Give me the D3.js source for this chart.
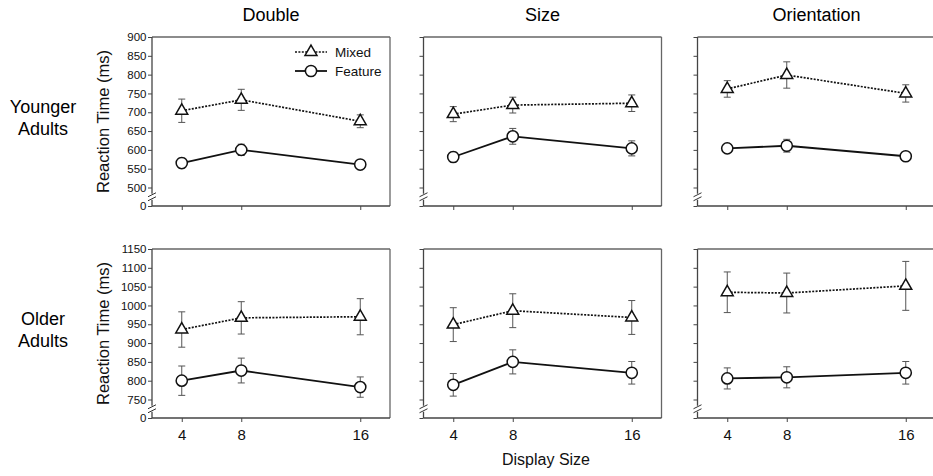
<!DOCTYPE html>
<html>
<head>
<meta charset="utf-8">
<script src="https://cdn.jsdelivr.net/npm/d3@7"></script>
<style>
  body { margin: 0; background: #fff; }
  svg { display: block; font-family: "Liberation Sans", Arial, sans-serif; }
</style>
</head>
<body>
<div id="chart"></div>
<script>
// ---- data ----
const displaySizes = [4, 8, 16];
const tasks = ["Double", "Size", "Orientation"];
const rowLabels = [["Younger", "Adults"], ["Older", "Adults"]];
const seriesNames = ["Mixed", "Feature"];

const youngTicks = [0, 500, 550, 600, 650, 700, 750, 800, 850, 900];
const oldTicks = [0, 750, 800, 850, 900, 950, 1000, 1050, 1100, 1150];

// rows = task (Double, Size, Orientation), columns = display size 4, 8, 16
const youngMixedMean = [[704, 733, 676], [695, 719, 724], [762, 799, 750]];
const youngMixedErr = [[31, 28, 17], [20, 21, 22], [22, 35, 23]];
const youngFeatureMean = [[565, 600, 561], [581, 636, 604], [604, 611, 583]];
const youngFeatureErr = [[13, 15, 9], [13, 21, 20], [8, 17, 10]];

const oldMixedMean = [[936, 967, 970], [949, 986, 968], [1035, 1033, 1052]];
const oldMixedErr = [[47, 43, 48], [45, 45, 45], [54, 53, 65]];
const oldFeatureMean = [[800, 827, 783], [789, 850, 821], [806, 809, 821]];
const oldFeatureErr = [[39, 33, 27], [30, 32, 30], [28, 28, 30]];

const W = 933, H = 476;
const panelLefts = [152, 423.5, 697.5];
const panelTops = [37, 249];
const pw = 238, ph = 169, breakGap = 18.5;

const svg = d3.select("#chart").append("svg")
    .attr("width", W)
    .attr("height", H);

const rows = [
    { ticks: youngTicks, mixed: youngMixedMean, mixedErr: youngMixedErr, feat: youngFeatureMean, featErr: youngFeatureErr },
    { ticks: oldTicks, mixed: oldMixedMean, mixedErr: oldMixedErr, feat: oldFeatureMean, featErr: oldFeatureErr }
];

const x = d3.scaleLinear().domain([2, 18]).range([0, pw]);

rows.forEach((row, ri) => {
    const lo = row.ticks[1], hi = row.ticks[row.ticks.length - 1];
    const y = d3.scaleLinear()
        .domain([0, lo, hi])
        .range([ph, ph - breakGap, 0]);

    // row label
    svg.append("text")
        .attr("x", 43)
        .attr("y", panelTops[ri] + 76)
        .attr("text-anchor", "middle")
        .attr("font-size", "18px")
        .selectAll("tspan")
        .data(rowLabels[ri])
        .enter()
        .append("tspan")
        .attr("x", 43)
        .attr("dy", (d, i) => i === 0 ? 0 : 21.5)
        .text(d => d);

    tasks.forEach((task, ti) => {
        const g = svg.append("g")
            .attr("transform", `translate(${panelLefts[ti]},${panelTops[ri]})`);

        // title over top row
        if (ri === 0) {
            g.append("text")
                .attr("x", pw / 2)
                .attr("y", -16)
                .attr("text-anchor", "middle")
                .attr("font-size", "18px")
                .text(task);
        }

        // left axis ticks
        const yAxis = d3.axisLeft(y)
            .tickValues(row.ticks)
            .tickSize(4)
            .tickFormat(ti === 0 ? d3.format("d") : () => "");
        const ya = g.append("g").call(yAxis);
        ya.select(".domain").remove();
        ya.selectAll(".tick line").attr("stroke", "#444");
        ya.selectAll(".tick text")
            .attr("font-size", "11.5px")
            .attr("fill", "#111")
            .attr("x", -5.5)
            .attr("font-family", "Liberation Sans, Arial, sans-serif");

        // bottom axis ticks
        const xAxis = d3.axisBottom(x)
            .tickValues(displaySizes)
            .tickSize(4)
            .tickFormat(ri === 1 ? d3.format("d") : () => "");
        const xa = g.append("g")
            .attr("transform", `translate(0,${ph})`)
            .call(xAxis);
        xa.select(".domain").remove();
        xa.selectAll(".tick line").attr("stroke", "#444");
        xa.selectAll(".tick text")
            .attr("font-size", "15px")
            .attr("fill", "#111")
            .attr("y", 11)
            .attr("font-family", "Liberation Sans, Arial, sans-serif");

        // frame: top and right lighter, left axis with a break
        g.append("line").attr("x1", 0).attr("x2", pw).attr("y1", 0).attr("y2", 0)
            .attr("stroke", "#666").attr("stroke-width", 1.3);
        g.append("line").attr("x1", pw).attr("x2", pw).attr("y1", 0).attr("y2", ph)
            .attr("stroke", "#666").attr("stroke-width", 1.3);
        g.append("line").attr("x1", 0).attr("x2", pw).attr("y1", ph).attr("y2", ph)
            .attr("stroke", "#444").attr("stroke-width", 1.3);

        const yb = ph - breakGap / 2;
        g.append("line").attr("x1", 0).attr("x2", 0).attr("y1", 0).attr("y2", yb - 3)
            .attr("stroke", "#444").attr("stroke-width", 1.3);
        g.append("line").attr("x1", 0).attr("x2", 0).attr("y1", yb + 3).attr("y2", ph)
            .attr("stroke", "#444").attr("stroke-width", 1.3);
        [-2, 2].forEach(off => {
            g.append("line")
                .attr("x1", -4).attr("y1", yb + off + 2)
                .attr("x2", 4).attr("y2", yb + off - 2)
                .attr("stroke", "#333")
                .attr("stroke-width", 1);
        });

        const series = [
            { name: "Mixed", mean: row.mixed[ti], err: row.mixedErr[ti], dash: "2,1.4", marker: "tri" },
            { name: "Feature", mean: row.feat[ti], err: row.featErr[ti], dash: null, marker: "circ" }
        ];

        const line = d3.line()
            .x((d, i) => x(displaySizes[i]))
            .y(d => y(d));

        series.forEach(s => {
            // error bars
            const eb = g.append("g");
            s.mean.forEach((m, i) => {
                const cx = x(displaySizes[i]);
                eb.append("line")
                    .attr("x1", cx).attr("x2", cx)
                    .attr("y1", y(m - s.err[i])).attr("y2", y(m + s.err[i]))
                    .attr("stroke", "#555").attr("stroke-width", 1);
                [m - s.err[i], m + s.err[i]].forEach(v => {
                    eb.append("line")
                        .attr("x1", cx - 3.5).attr("x2", cx + 3.5)
                        .attr("y1", y(v)).attr("y2", y(v))
                        .attr("stroke", "#555").attr("stroke-width", 1);
                });
            });

            g.append("path")
                .datum(s.mean)
                .attr("fill", "none")
                .attr("stroke", "#111")
                .attr("stroke-width", s.dash ? 1.7 : 1.8)
                .attr("stroke-dasharray", s.dash)
                .attr("d", line);
        });

        series.forEach(s => {
            s.mean.forEach((m, i) => {
                drawMarker(g, s.marker, x(displaySizes[i]), y(m));
            });
        });

        // legend in first panel
        if (ri === 0 && ti === 0) {
            const lg = g.append("g").attr("transform", "translate(143,0)");
            series.forEach((s, i) => {
                const ly = 15 + i * 19;
                lg.append("line")
                    .attr("x1", 0).attr("x2", 32)
                    .attr("y1", ly).attr("y2", ly)
                    .attr("stroke", "#111")
                    .attr("stroke-width", s.dash ? 1.5 : 1.8)
                    .attr("stroke-dasharray", s.dash);
                drawMarker(lg, s.marker, 16, ly);
                lg.append("text")
                    .attr("x", 40)
                    .attr("y", ly + 5)
                    .attr("font-size", "13.5px")
                    .attr("fill", "#111")
                    .text(s.name);
            });
        }
    });

    // y axis title
    const cy = panelTops[ri] + ph / 2;
    svg.append("text")
        .attr("transform", `translate(108.5,${cy}) rotate(-90)`)
        .attr("text-anchor", "middle")
        .attr("font-size", "16.5px")
        .attr("fill", "#111")
        .text("Reaction Time (ms)");
});

svg.append("text")
    .attr("x", 546)
    .attr("y", 465)
    .attr("text-anchor", "middle")
    .attr("font-size", "16px")
    .attr("fill", "#111")
    .text("Display Size");

function drawMarker(g, type, cx, cy) {
    if (type === "tri") {
        g.append("path")
            .attr("d", d3.symbol().type(d3.symbolTriangle).size(62)())
            .attr("transform", `translate(${cx},${cy})`)
            .attr("fill", "#fff")
            .attr("stroke", "#111")
            .attr("stroke-width", 1.5);
    } else {
        g.append("circle")
            .attr("cx", cx)
            .attr("cy", cy)
            .attr("r", 5.6)
            .attr("fill", "#fff")
            .attr("stroke", "#111")
            .attr("stroke-width", 1.5);
    }
}
</script>
</body>
</html>
